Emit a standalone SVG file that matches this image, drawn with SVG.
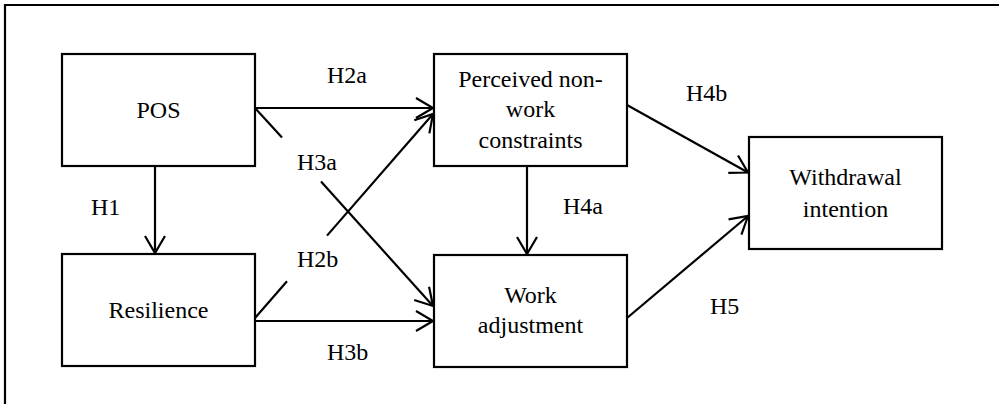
<svg xmlns="http://www.w3.org/2000/svg" width="999" height="404" viewBox="0 0 999 404">
<style>
.box{fill:#fff;stroke:#000;stroke-width:2.2}
.t{font-family:"Liberation Serif","Times New Roman",serif;font-size:24px;fill:#000;text-anchor:middle}
.lb{font-family:"Liberation Serif","Times New Roman",serif;font-size:24px;fill:#000}
.c{stroke:#000;stroke-width:2.2;fill:none}
</style>
<defs>
<marker id="ah" markerUnits="userSpaceOnUse" markerWidth="24" markerHeight="24" viewBox="-20 -12 22 24" refX="0" refY="0" orient="auto">
<path d="M-17,-10 L0,0 L-17,10" fill="none" stroke="#000" stroke-width="2.2"/>
</marker>
</defs>
<rect x="0" y="0" width="999" height="404" fill="#fff"/>
<path d="M5,410 L5,5 L1010,5" fill="none" stroke="#000" stroke-width="2.2"/>
<g id="connectors">
<line class="c" x1="255" y1="108" x2="433" y2="108" marker-end="url(#ah)"/>
<line class="c" x1="255" y1="108" x2="282" y2="137.5"/>
<line class="c" x1="321" y1="181.5" x2="433" y2="306" marker-end="url(#ah)"/>
<line class="c" x1="255" y1="318" x2="287" y2="281.3"/>
<line class="c" x1="327" y1="235.6" x2="433" y2="114" marker-end="url(#ah)"/>
<line class="c" x1="255" y1="321" x2="433" y2="321" marker-end="url(#ah)"/>
<line class="c" x1="155" y1="166" x2="155" y2="253" marker-end="url(#ah)"/>
<line class="c" x1="527" y1="166" x2="527" y2="254" marker-end="url(#ah)"/>
<line class="c" x1="627" y1="105" x2="748" y2="172.5" marker-end="url(#ah)"/>
<line class="c" x1="627" y1="318" x2="748" y2="216" marker-end="url(#ah)"/>
<text class="lb" x="327" y="83">H2a</text>
<text class="lb" x="297" y="170">H3a</text>
<text class="lb" x="297" y="267">H2b</text>
<text class="lb" x="327" y="360">H3b</text>
<text class="lb" x="91" y="215">H1</text>
<text class="lb" x="563" y="214">H4a</text>
<text class="lb" x="686" y="101">H4b</text>
<text class="lb" x="710" y="314">H5</text>
</g>
<g id="pos">
<rect class="box" x="62" y="54" width="193" height="112"/>
<text class="t" x="158.5" y="118">POS</text>
</g>
<g id="resilience">
<rect class="box" x="62" y="254" width="193" height="112"/>
<text class="t" x="158.5" y="318">Resilience</text>
</g>
<g id="perceived">
<rect class="box" x="434" y="54" width="193" height="112"/>
<text class="t" x="530.5" y="87">Perceived non-</text>
<text class="t" x="530.5" y="117">work</text>
<text class="t" x="530.5" y="148">constraints</text>
</g>
<g id="work">
<rect class="box" x="434" y="255" width="193" height="112"/>
<text class="t" x="530.5" y="303">Work</text>
<text class="t" x="530.5" y="333">adjustment</text>
</g>
<g id="withdrawal">
<rect class="box" x="749" y="137" width="193" height="112"/>
<text class="t" x="845.5" y="185">Withdrawal</text>
<text class="t" x="845.5" y="217">intention</text>
</g>
</svg>
